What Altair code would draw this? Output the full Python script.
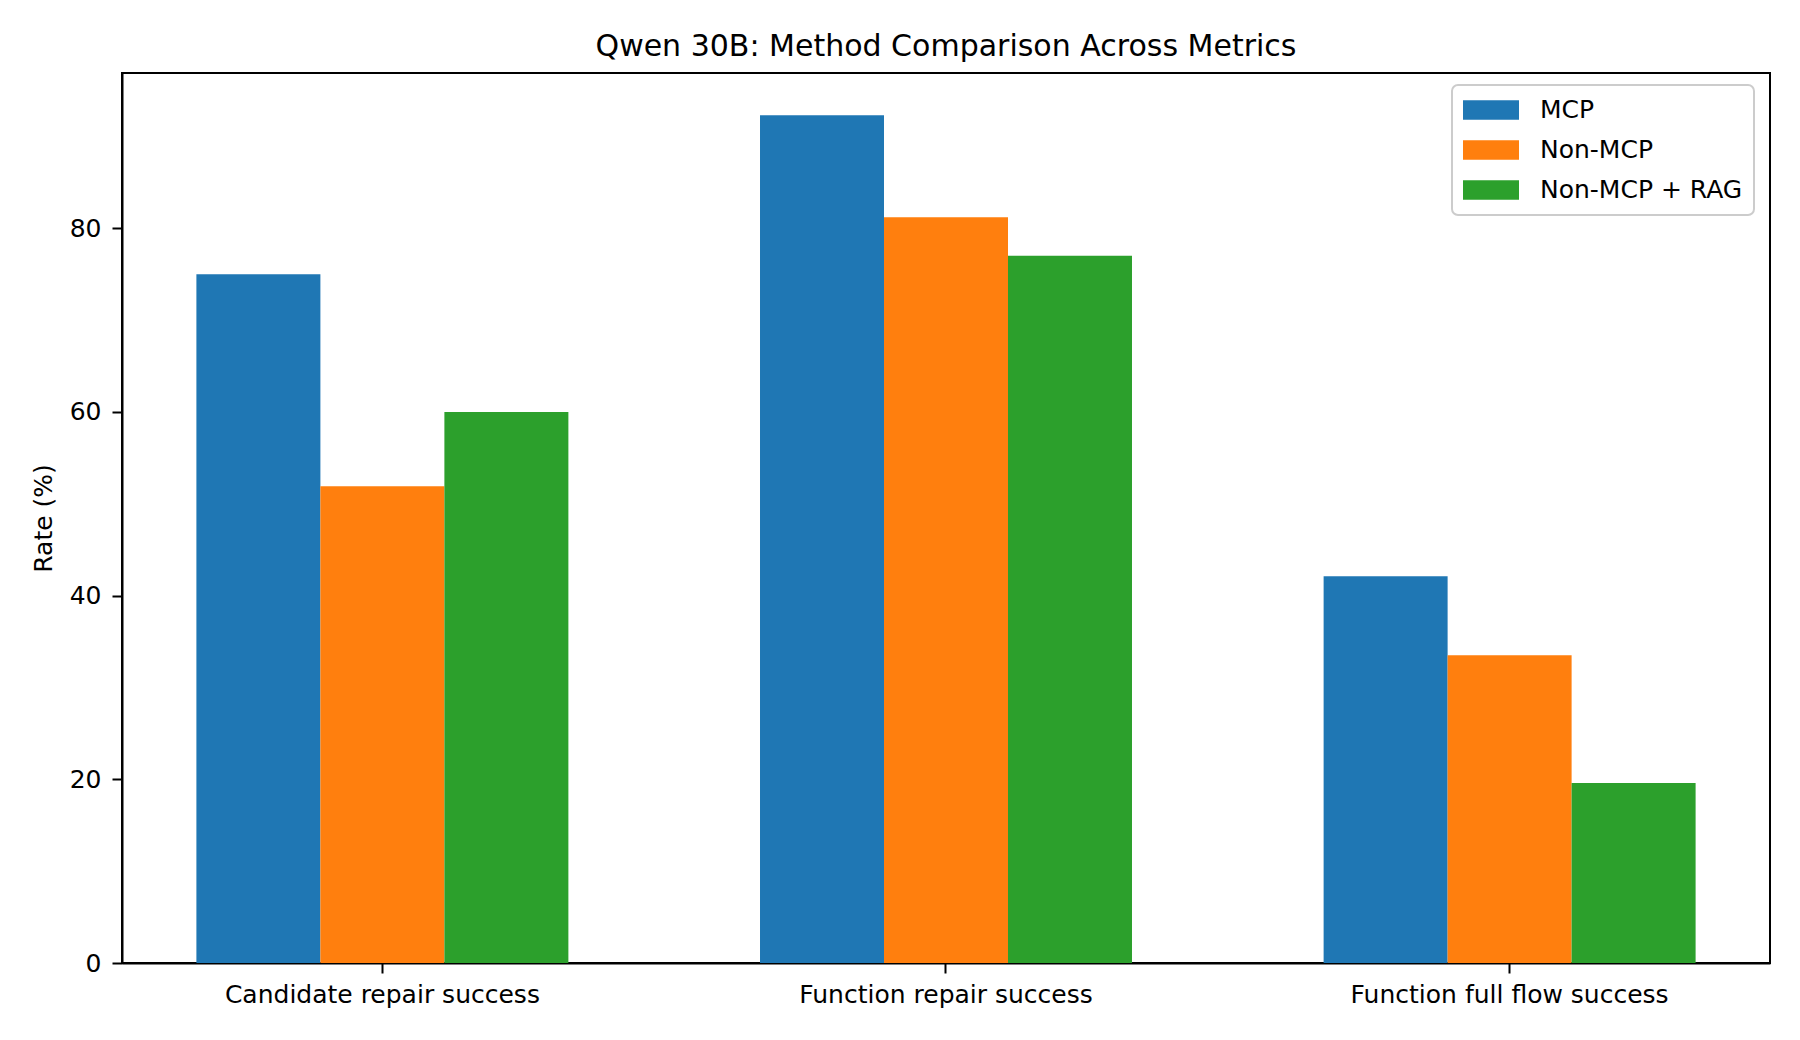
import altair as alt
import pandas as pd

metrics = ["Candidate repair success", "Function repair success", "Function full flow success"]
methods = ["MCP", "Non-MCP", "Non-MCP + RAG"]
mcp = [75.0, 92.3, 42.1]
non_mcp = [51.9, 81.2, 33.5]
non_mcp_rag = [60.0, 77.0, 19.6]
colors = ["#1f77b4", "#ff7f0e", "#2ca02c"]
y_ticks = [0, 20, 40, 60, 80]

rows = []
for series_name, vals in zip(methods, [mcp, non_mcp, non_mcp_rag]):
    for m, v in zip(metrics, vals):
        rows.append({"metric": m, "method": series_name, "value": v})
df = pd.DataFrame(rows)

FONT = "DejaVu Sans"

chart = alt.Chart(df).mark_bar().encode(
    x=alt.X(
        "metric:N",
        sort=metrics,
        scale=alt.Scale(paddingInner=0.34, paddingOuter=0.132),
        axis=alt.Axis(title=None, labelAngle=0, labelPadding=9, labelLimit=0),
    ),
    xOffset=alt.XOffset(
        "method:N", sort=methods, scale=alt.Scale(paddingInner=0, paddingOuter=0)
    ),
    y=alt.Y(
        "value:Q",
        scale=alt.Scale(domain=[0, 96.9], nice=False, zero=True),
        axis=alt.Axis(
            title="Rate (%)",
            values=y_ticks,
            labelPadding=11,
            titleX=-79,
            titleY=445,
            titleBaseline="middle",
            titleAlign="center",
            titleFontSize=25,
            titleFont=FONT,
            titleFontWeight="normal",
            titleColor="black",
        ),
    ),
    color=alt.Color(
        "method:N",
        sort=methods,
        scale=alt.Scale(domain=methods, range=colors),
        legend=alt.Legend(
            title=None,
            orient="none",
            legendX=1330,
            legendY=12,
            symbolType="M-1,-0.35L1,-0.35L1,0.35L-1,0.35Z",
            symbolSize=3136,
            symbolStrokeWidth=0,
            symbolOpacity=1,
            labelFont=FONT,
            labelFontSize=25,
            labelColor="black",
            labelOffset=21,
            labelLimit=0,
            clipHeight=28,
            rowPadding=12,
            padding=11,
            strokeColor="#cccccc",
            fillColor="white",
            cornerRadius=6,
        ),
    ),
).properties(
    width=1648,
    height=890,
    title=alt.TitleParams(
        "Qwen 30B: Method Comparison Across Metrics",
        font=FONT,
        fontSize=30,
        fontWeight="normal",
        color="black",
        anchor="middle",
        baseline="alphabetic",
        offset=17,
        dy=30,
    ),
    autosize=alt.AutoSizeParams(type="none"),
    padding={"left": 114, "top": 65, "right": 22, "bottom": 69},
).configure_view(
    stroke="black", strokeWidth=2
).configure_axis(
    grid=False,
    domainColor="black",
    domainWidth=2,
    tickColor="black",
    tickWidth=2,
    tickSize=10,
    labelFont=FONT,
    labelFontSize=25,
    labelColor="black",
).configure_legend(
    strokeWidth=2
)

chart.save("out.html", embed_options={"renderer": "svg", "actions": False})
